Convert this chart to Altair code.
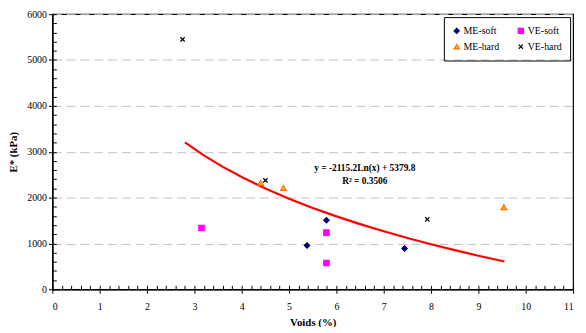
import altair as alt
import pandas as pd

series = ["ME-soft", "ME-hard", "VE-soft", "VE-hard"]
me_soft_x = [5.38, 5.79, 7.44]
me_soft_y = [955, 1505, 890]
ve_soft_x = [3.15, 5.79, 5.79]
ve_soft_y = [1335, 1235, 575]
me_hard_x = [4.40, 4.88, 9.54]
me_hard_y = [2320, 2210, 1790]
ve_hard_x = [2.75, 4.50, 7.92]
ve_hard_y = [5450, 2375, 1525]

trend_x = [2.8, 3.2, 3.6, 4.0, 4.5, 5.0, 5.5, 6.0, 6.5, 7.0, 7.5, 8.0, 8.5, 9.0, 9.55]
trend_y = [3202, 2920, 2670, 2448, 2198, 1976, 1774, 1590, 1421, 1264, 1118, 981, 853, 732, 607]

eq_lines = ["y = -2115.2Ln(x) + 5379.8", "R\u00b2 = 0.3506"]
eq_x = [6.6, 6.6]
eq_y = [2650, 2370]

x_major = list(range(0, 12))
x_minor = [i / 5 for i in range(0, 56)]
y_major = list(range(0, 6001, 1000))
y_minor = list(range(0, 6001, 200))

FONT = "Liberation Serif"

rows = []
for name, xs, ys in [("ME-soft", me_soft_x, me_soft_y), ("VE-soft", ve_soft_x, ve_soft_y),
                     ("ME-hard", me_hard_x, me_hard_y), ("VE-hard", ve_hard_x, ve_hard_y)]:
    for a, b in zip(xs, ys):
        rows.append({"x": a, "y": b, "s": name})
pts = pd.DataFrame(rows)
trend = pd.DataFrame({"x": trend_x, "y": trend_y})
eq = pd.DataFrame({"x": eq_x, "y": eq_y, "t": eq_lines})

xscale = alt.Scale(domain=[0, 11], nice=False, zero=False)
yscale = alt.Scale(domain=[0, 6000], nice=False, zero=False)

leg = alt.Legend(title=None, orient="none", legendX=397, legendY=3, columns=2,
                 strokeColor="black", padding=8, columnPadding=16, rowPadding=4,
                 labelFont=FONT, labelFontSize=10, labelColor="black", symbolSize=28,
                 symbolStrokeWidth=1.2, labelOffset=2, clipHeight=12)

xshape = "M-0.8,-0.8L0.8,0.8M0.8,-0.8L-0.8,0.8"

points = alt.Chart(pts).mark_point(opacity=1, size=30, strokeWidth=1.2).encode(
    x=alt.X("x:Q", scale=xscale, axis=alt.Axis(
        orient="bottom", values=x_major, title="Voids (%)", grid=False,
        domainColor="black", domainWidth=1.5, tickColor="black", tickSize=4,
        labelFont=FONT, labelFontSize=10, labelColor="black", labelPadding=8,
        titleFont=FONT, titleFontSize=11, titleFontWeight="bold", titleColor="black",
        titlePadding=6)),
    y=alt.Y("y:Q", scale=yscale, axis=alt.Axis(
        orient="left", values=y_major, format="d", title="E* (kPa)", grid=True,
        gridColor="#c0c0c0", gridDash=[9, 5], gridWidth=1,
        domainColor="black", domainWidth=1.5, tickColor="black", tickSize=4,
        labelFont=FONT, labelFontSize=10, labelColor="black", labelPadding=2,
        titleFont=FONT, titleFontSize=11, titleFontWeight="bold", titleColor="black",
        titlePadding=8)),
    shape=alt.Shape("s:N", scale=alt.Scale(domain=series,
                    range=["diamond", "triangle-up", "square", xshape]), legend=leg),
    fill=alt.Fill("s:N", scale=alt.Scale(domain=series,
                  range=["#000080", "#FFCC00", "#FF00FF", "transparent"]), legend=leg),
    stroke=alt.Stroke("s:N", scale=alt.Scale(domain=series,
                      range=["#000080", "#FF6600", "#FF00FF", "black"]), legend=leg),
)

line = alt.Chart(trend).mark_line(color="#FF0000", strokeWidth=2.2).encode(
    x=alt.X("x:Q", scale=xscale, axis=alt.Axis(
        orient="bottom", values=x_minor, labels=False, domain=False, grid=False,
        tickColor="black", tickSize=4, offset=-4, title=None)),
    y=alt.Y("y:Q", scale=yscale, axis=alt.Axis(
        orient="left", values=y_minor, labels=False, domain=False, grid=False,
        tickColor="black", tickSize=4, offset=-4, title=None)),
)

text = alt.Chart(eq).mark_text(font=FONT, fontSize=9.5, fontWeight="bold", color="black").encode(
    x=alt.X("x:Q", scale=xscale, axis=None),
    y=alt.Y("y:Q", scale=yscale, axis=None),
    text="t:N",
)

chart = alt.layer(line, points, text).resolve_axis(x="independent", y="independent").properties(
    width=528, height=279,
    autosize=alt.AutoSizeParams(type="none"),
    padding={"left": 45, "top": 4, "right": 5, "bottom": 36},
    background="white",
).configure_view(stroke="black", strokeWidth=1.2)

chart.save("out.html", embed_options={"renderer": "svg", "actions": False})
